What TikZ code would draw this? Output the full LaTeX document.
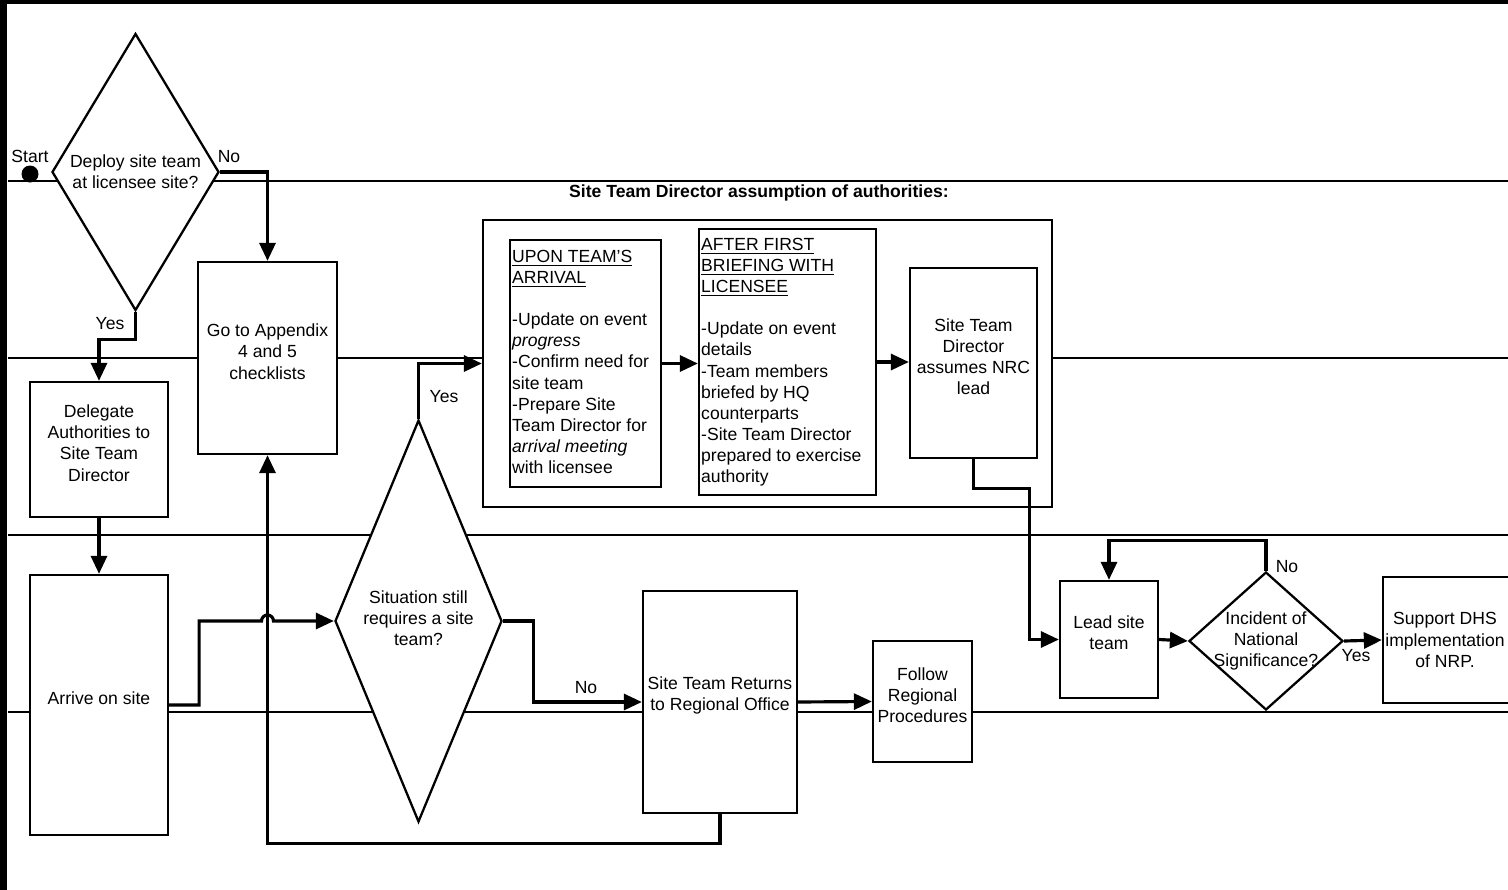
\documentclass[tikz,border=0pt]{standalone}
\usepackage{fontspec}
\setmainfont{Liberation Sans}
\usetikzlibrary{shapes.geometric, fit, arrows.meta}

\begin{document}
\begin{tikzpicture}[x=0.2mm, y=-0.2mm,
        >={Triangle[length=3.6mm, width=3.2mm]},
        box/.style={draw, line width=1.3pt, fill=white, inner sep=0pt, align=center},
        decision/.style={draw, diamond, line width=1.3pt, fill=white, inner sep=0pt},
        lane/.style={line width=1.1pt},
        flow/.style={line width=1.8pt, ->}]
        \useasboundingbox (0,0) rectangle (1508,890);
        \draw[line width=0.8mm] (0,2) -- (1508,2);
        \draw[line width=1.4mm] (3.5,0) -- (3.5,890);
        \foreach \y in {181,358,535,712}
            \draw[lane] (8,\y) -- (1508,\y);

        \node[circle, fill, inner sep=0pt, minimum size=3.4mm, label={[inner sep=1pt]above:Start}] (start) at (30,174) {};
        \node[decision, minimum width=33.4mm, minimum height=55.4mm] (deploy) at (135.5,172) {};
        \node[align=center] (deploytext) at (deploy) {Deploy site team\\at licensee site?};

        \node[box, fit={(198,262) (337,454)}] (appendix) {Go to Appendix\\4 and 5\\checklists};
        \node[box, fit={(30,382) (168,517)}] (delegate) {Delegate\\Authorities to\\Site Team\\Director};
        \node[box, fit={(30,575) (168,835)}] (arrive) {Arrive on site};

        \node[decision, minimum width=33.4mm, minimum height=80.4mm] (situation) at (418.5,621) {};
        \node[align=center] (situationtext) at ([yshift=0.6mm]situation) {Situation still\\requires a site\\team?};

        \node[font=\bfseries] (authtitle) at (759,193) {Site Team Director assumption of authorities:};
        \node[box, fit={(483,220) (1052,507)}] (group) {};
        \node[box, fit={(510,240) (661,487)}] (upon) {};
        \node[anchor=north west, align=left, inner sep=0pt] (upontext) at ([shift={(3,11)}]upon.north west)
            {\underline{UPON TEAM'S}\\\underline{ARRIVAL}\\[\baselineskip]
            -Update on event\\\textit{progress}\\-Confirm need for\\site team\\-Prepare Site\\Team Director for\\\textit{arrival meeting}\\with licensee};
        \node[box, fit={(699,229) (876,495)}] (after) {};
        \node[anchor=north west, align=left, inner sep=0pt] (aftertext) at ([shift={(3,10)}]after.north west)
            {\underline{AFTER FIRST}\\\underline{BRIEFING WITH}\\\underline{LICENSEE}\\[\baselineskip]
            -Update on event\\details\\-Team members\\briefed by HQ\\counterparts\\-Site Team Director\\prepared to exercise\\authority};
        \node[box, fit={(910,268) (1037,458)}] (std) {Site Team\\Director\\assumes NRC\\lead};

        \node[box, fit={(643,591) (797,813)}] (returns) {Site Team Returns\\to Regional Office};
        \node[box, fit={(873,641) (972,762)}] (follow) {Follow\\Regional\\Procedures};

        \node[box, fit={(1060,581) (1158,698)}] (lead) {Lead site\\team};
        \node[decision, minimum width=30.8mm, minimum height=27.6mm] (incident) at (1266,641) {};
        \node[align=center] (incidenttext) at (incident) {Incident of\\National\\Significance?};
        \node[box, fit={(1383,577) (1525,703)}] (support) {};
        \node[align=center] (supporttext) at (1445,640) {Support DHS\\implementation\\of NRP.};

        \node (noA) at (229,157) {No};
        \node (yesA) at (110,324) {Yes};
        \node (yesB) at (444,397) {Yes};
        \node (noB) at (586,688) {No};
        \node (noC) at (1287,567) {No};
        \node (yesC) at (1356,656) {Yes};

        \coordinate (hop) at (appendix.south |- situation.west);

        \draw[flow] (deploy.east) -| (appendix.north);
        \draw[flow] (deploy.south) -- ++(0,28) -| (delegate.north);
        \draw[flow] (delegate.south) -- (arrive.north);
        \draw[flow] (arrive.east) -- ++(30,0) |- ([xshift=-1.2mm]hop) arc[start angle=180, end angle=360, radius=6] -- (situation.west);
        \draw[flow] (situation.north) |- (group.west);
        \draw[flow] (situation.east) -- ++(30,0) |- (returns.west);
        \draw[flow] (returns.east) -- (follow.west);
        \draw[flow] (returns.south) -- ++(0,29) -| (appendix.south);
        \draw[flow] (upon.east) -- (upon.east -| after.west);
        \draw[flow] (after.east) -- (after.east -| std.west);
        \draw[flow] (std.south) -- ++(0,29) -| ([xshift=-5.8mm]lead.west) -- (lead.west);
        \draw[flow] (lead.east) -- (incident.west);
        \draw[flow] (incident.north) -- ++(0,-30) -| (lead.north);
        \draw[flow] (incident.east) -- (support.west);
    \end{tikzpicture}
\end{document}
